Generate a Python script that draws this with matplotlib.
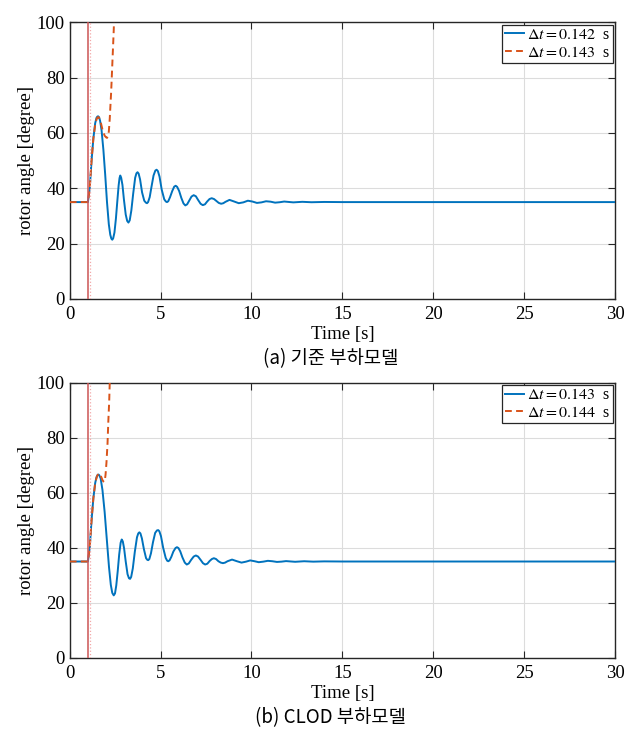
import matplotlib
matplotlib.use('Agg')
import matplotlib.pyplot as plt

plt.rcParams['font.family'] = ['Liberation Serif', 'DejaVu Serif']
plt.rcParams['mathtext.fontset'] = 'stix'

# ---- (a) 기준 부하모델 ----
t_a_stable = [0, 1.0, 1.1, 1.2, 1.3, 1.4, 1.47, 1.52, 1.56, 1.61, 1.67, 1.75, 1.85, 1.95, 2.05,
              2.15, 2.23, 2.29, 2.34, 2.39, 2.46, 2.54, 2.62, 2.69, 2.74, 2.78, 2.83, 2.9,
              2.98, 3.08, 3.16, 3.23, 3.3, 3.39, 3.49, 3.6, 3.67, 3.73, 3.79, 3.87, 3.98,
              4.1, 4.19, 4.25, 4.31, 4.4, 4.5, 4.61, 4.71, 4.78, 4.85, 4.94, 5.06, 5.2,
              5.29, 5.35, 5.42, 5.52, 5.64, 5.75, 5.83, 5.91, 6.02, 6.14, 6.26, 6.36, 6.46,
              6.58, 6.7, 6.82, 6.94, 7.06, 7.2, 7.32, 7.44, 7.56, 7.69, 7.81, 7.94, 8.07,
              8.2, 8.33, 8.45, 8.57, 8.79, 9.05, 9.3, 9.55, 9.8, 10.05, 10.3, 10.55, 10.8,
              11.05, 11.3, 11.55, 11.8, 12.3, 12.8, 13.3, 14.0, 15.0, 30.0]
y_a_stable = [35, 35, 40, 50, 58, 63.5, 65.4, 65.9, 66.0, 65.7, 64.4, 61, 54, 45, 35,
              27, 23.2, 21.8, 21.4, 21.9, 24, 29, 35.5, 41, 43.7, 44.6, 43.8, 41.2,
              36, 30.5, 28.2, 27.6, 28.4, 32, 38, 43.8, 45.4, 45.8, 45.3, 43.2, 38.5,
              35.5, 34.8, 34.6, 35, 36.8, 40.6, 44.6, 46.4, 46.7, 46.2, 44.2, 39.5, 36,
              35.2, 35.0, 35.3, 36.8, 39, 40.6, 40.9, 40.5, 39, 36.5, 34.5, 33.8, 34.2,
              35.6, 37, 37.5, 37.1, 35.8, 34.4, 33.9, 34.2, 35.2, 36.1, 36.4, 36.1, 35.4,
              34.7, 34.4, 34.6, 35.1, 35.8, 35.2, 34.6, 34.9, 35.5, 35.2, 34.7, 34.9, 35.3,
              35.15, 34.8, 34.95, 35.2, 34.9, 35.1, 34.95, 35.05, 35.0, 35.0]
t_a_unstable = [0, 1.0, 1.1, 1.2, 1.3, 1.4, 1.48, 1.53, 1.58, 1.63, 1.7, 1.8, 1.92, 2.0,
                2.05, 2.1, 2.15, 2.2, 2.28, 2.35, 2.42, 2.46]
y_a_unstable = [35, 35, 40, 50, 58, 63, 65.0, 65.6, 65.7, 65.3, 64, 61.2, 59, 58.4,
                58.2, 58.7, 60.5, 65, 75, 86, 97, 105]

# ---- (b) CLOD 부하모델 ----
t_b_stable = [0, 1.0, 1.1, 1.2, 1.3, 1.4, 1.47, 1.53, 1.58, 1.63, 1.7, 1.8, 1.92, 2.04,
              2.16, 2.26, 2.34, 2.42, 2.49, 2.56, 2.64, 2.72, 2.8, 2.86, 2.92, 2.99, 3.08,
              3.18, 3.26, 3.32, 3.38, 3.47, 3.58, 3.7, 3.77, 3.83, 3.89, 3.97, 4.08, 4.2,
              4.27, 4.32, 4.38, 4.47, 4.58, 4.7, 4.8, 4.87, 4.93, 5.02, 5.14, 5.28, 5.36,
              5.42, 5.49, 5.59, 5.7, 5.82, 5.9, 5.98, 6.08, 6.2, 6.33, 6.44, 6.55, 6.68,
              6.82, 6.94, 7.06, 7.2, 7.33, 7.45, 7.57, 7.7, 7.82, 7.93, 8.05, 8.18, 8.31,
              8.43, 8.55, 8.68, 8.93, 9.2, 9.45, 9.7, 9.93, 10.17, 10.4, 10.65, 10.9, 11.15,
              11.4, 11.65, 11.9, 12.4, 12.9, 13.4, 14.0, 15.0, 30.0]
y_b_stable = [35, 35, 40, 50, 58, 63.5, 65.6, 66.4, 66.6, 66.3, 65.2, 61, 53, 43,
              33, 26.5, 23.6, 22.7, 23.4, 26.3, 31.5, 37.5, 41.8, 43.0, 42.3, 39.8, 35,
              30.4, 28.9, 28.7, 29.4, 32.5, 38.5, 43.8, 45.2, 45.6, 45.2, 43.4, 39.5, 36.2,
              35.6, 35.5, 35.9, 38, 42, 45.4, 46.3, 46.4, 46.0, 44.2, 40, 36.3, 35.3,
              35.1, 35.4, 36.7, 38.6, 39.9, 40.2, 39.9, 38.7, 36.5, 34.6, 33.9, 34.3, 35.6,
              36.8, 37.2, 36.8, 35.6, 34.4, 33.9, 34.2, 35.2, 35.9, 36.2, 35.9, 35.1, 34.6,
              34.4, 34.6, 35.1, 35.7, 35.1, 34.6, 34.95, 35.4, 35.1, 34.75, 34.95, 35.25, 35.1,
              34.85, 34.95, 35.15, 34.9, 35.1, 34.95, 35.05, 35.0, 35.0]
t_b_unstable = [0, 1.0, 1.1, 1.2, 1.3, 1.4, 1.5, 1.57, 1.62, 1.67, 1.74, 1.8, 1.85, 1.89,
                1.93, 1.97, 2.02, 2.08, 2.12, 2.17, 2.21]
y_b_unstable = [35, 35, 40, 50, 58, 63.5, 66.0, 66.8, 67.0, 66.7, 65.6, 64.6, 64.1, 63.9,
                64.5, 66.5, 70.9, 78, 85.5, 93, 102]

t_fault = 1.0
t_clear = 1.14

panels = [
    (t_a_stable, y_a_stable, t_a_unstable, y_a_unstable, '0.142', '0.143', '(a) 기준 부하모델'),
    (t_b_stable, y_b_stable, t_b_unstable, y_b_unstable, '0.143', '0.144', '(b) CLOD 부하모델'),
]

fig = plt.figure(figsize=(6.34, 7.4), dpi=100)
rects = [[0.110, 0.596, 0.860, 0.374], [0.110, 0.111, 0.860, 0.372]]
caption_y = [0.516, 0.030]

for rect, cap_y, (ts, ys, tu, yu, dt1, dt2, caption) in zip(rects, caption_y, panels):
    ax = fig.add_axes(rect)
    ax.grid(True, color='#dcdcdc', linewidth=0.8)
    ax.set_axisbelow(True)
    ax.plot(ts, ys, color='#0072BD', linewidth=1.4, label=rf'$\Delta t = {dt1}$  s', zorder=3)
    ax.plot(tu, yu, color='#D95319', linewidth=1.4, linestyle='--', dashes=(3.5, 2.2),
            label=rf'$\Delta t = {dt2}$  s', zorder=3)
    ax.axvline(t_fault, color='#cc5555', linewidth=1.1, zorder=4)
    ax.axvline(t_clear, color='#f2a8a8', linewidth=0.9, linestyle=':', zorder=4)

    ax.set_xlim(0, 30)
    ax.set_ylim(0, 100)
    ax.set_xticks([0, 5, 10, 15, 20, 25, 30])
    ax.set_yticks([0, 20, 40, 60, 80, 100])
    ax.tick_params(direction='in', top=True, right=True, labelsize=13.5, length=5,
                   color='#262626')
    ax.tick_params(axis='x', pad=5)
    for sp in ax.spines.values():
        sp.set_color('#262626')
        sp.set_linewidth(1.0)
    ax.set_xlabel('Time [s]', fontsize=13.5, labelpad=2)
    ax.set_ylabel('rotor angle [degree]', fontsize=13.5, labelpad=1)

    leg = ax.legend(loc='upper right', fontsize=11.5, handlelength=1.2, handletextpad=0.2,
                    borderpad=0.15, labelspacing=0.1, borderaxespad=0.15, fancybox=False,
                    framealpha=1)
    leg.get_frame().set_edgecolor('#262626')
    leg.get_frame().set_linewidth(0.9)

    fig.text(0.521, cap_y, caption, ha='center', va='center', fontsize=13.5,
             family=['Noto Sans CJK KR', 'DejaVu Sans'])

fig.savefig('out.png', dpi=100, facecolor='white')
